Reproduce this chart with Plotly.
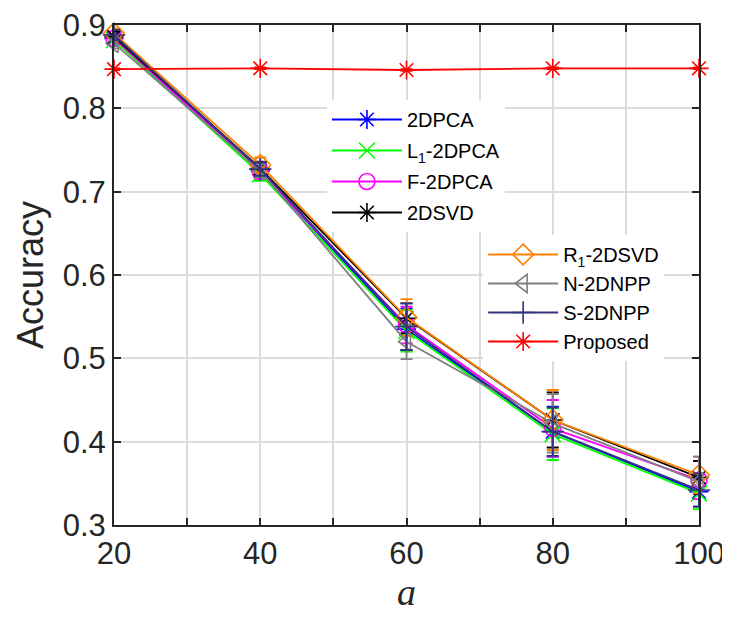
import plotly.graph_objects as go

x_vals = [20, 40, 60, 80, 100]

names = ["2DPCA", "L<sub>1</sub>-2DPCA", "F-2DPCA", "2DSVD",
         "R<sub>1</sub>-2DSVD", "N-2DNPP", "S-2DNPP", "Proposed"]

acc_2dpca = [0.884, 0.725, 0.535, 0.412, 0.340]
acc_l1_2dpca = [0.882, 0.721, 0.533, 0.409, 0.338]
acc_f_2dpca = [0.884, 0.724, 0.540, 0.416, 0.354]
acc_2dsvd = [0.886, 0.728, 0.548, 0.426, 0.357]
acc_r1_2dsvd = [0.890, 0.732, 0.549, 0.426, 0.360]
acc_n_2dnpp = [0.878, 0.725, 0.520, 0.422, 0.352]
acc_s_2dnpp = [0.888, 0.727, 0.538, 0.412, 0.342]
acc_proposed = [0.847, 0.848, 0.846, 0.848, 0.848]

err_2dpca = [0.006, 0.008, 0.025, 0.030, 0.018]
err_l1_2dpca = [0.006, 0.008, 0.025, 0.031, 0.019]
err_f_2dpca = [0.006, 0.008, 0.022, 0.034, 0.023]
err_2dsvd = [0.006, 0.008, 0.018, 0.033, 0.020]
err_r1_2dsvd = [0.006, 0.009, 0.022, 0.036, 0.022]
err_n_2dnpp = [0.006, 0.008, 0.021, 0.035, 0.030]
err_s_2dnpp = [0.006, 0.008, 0.028, 0.029, 0.020]
err_proposed = [0.001, 0.001, 0.001, 0.001, 0.001]

x_ticks = [20, 40, 60, 80, 100]
x_minor_ticks = [30, 50, 70, 90]
y_ticks = [0.3, 0.4, 0.5, 0.6, 0.7, 0.8, 0.9]
y_tick_labels = ["0.3", "0.4", "0.5", "0.6", "0.7", "0.8", "0.9"]

series = [
    (names[0], acc_2dpca, err_2dpca, "#0000FF", "asterisk-open", "legend"),
    (names[1], acc_l1_2dpca, err_l1_2dpca, "#00FF00", "x-thin-open", "legend"),
    (names[2], acc_f_2dpca, err_f_2dpca, "#FF00FF", "circle-open", "legend"),
    (names[3], acc_2dsvd, err_2dsvd, "#000000", "asterisk-open", "legend"),
    (names[4], acc_r1_2dsvd, err_r1_2dsvd, "#FF8000", "diamond-open", "legend2"),
    (names[5], acc_n_2dnpp, err_n_2dnpp, "#808080", "triangle-left-open", "legend2"),
    (names[6], acc_s_2dnpp, err_s_2dnpp, "#333380", "cross-thin-open", "legend2"),
    (names[7], acc_proposed, err_proposed, "#FF0000", "asterisk-open", "legend2"),
]

fig = go.Figure()
for i, (nm, ys, es, col, sym, lg) in enumerate(series):
    fig.add_trace(go.Scatter(
        x=x_vals, y=ys, name=nm, mode="lines+markers",
        line=dict(color=col, width=1.8),
        marker=dict(symbol=sym, size=16, color=col, line=dict(width=1.6, color=col)),
        error_y=dict(type="data", array=es, visible=True, color=col,
                     thickness=1.8, width=6),
        legend=lg, legendgroup="g%d" % i, cliponaxis=False,
    ))

axis_common = dict(
    showline=True, linecolor="#262626", linewidth=2, mirror="ticks",
    ticks="inside", ticklen=7, tickwidth=2, tickcolor="#262626",
    showgrid=True, gridcolor="#DCDCDC", gridwidth=1.6, zeroline=False,
    ticklabeloverflow="allow", automargin=False,
    tickfont=dict(family="Liberation Sans, Arial", size=31, color="#262626"),
)

fig.update_layout(
    width=730, height=618,
    margin=dict(l=106, r=39, t=17, b=101),
    paper_bgcolor="white", plot_bgcolor="white",
    xaxis=dict(range=[20, 100], tickmode="array", tickvals=x_ticks,
               ticktext=[str(v) for v in x_ticks],
               minor=dict(tickmode="array", tickvals=x_minor_ticks, ticks="inside",
                          ticklen=7, tickwidth=2, tickcolor="#262626", showgrid=True,
                          gridcolor="#DCDCDC", gridwidth=1.6),
               title=dict(text="<i>a</i>", font=dict(family="Liberation Serif, Times New Roman", size=38, color="#262626"),
                          standoff=6),
               **axis_common),
    yaxis=dict(range=[0.3, 0.9], tickmode="array", tickvals=y_ticks,
               ticktext=y_tick_labels,
               title=dict(text="Accuracy", font=dict(family="Liberation Sans, Arial", size=36, color="#262626"),
                          standoff=8),
               **axis_common),
    legend=dict(x=0.364, y=0.85, xanchor="left", yanchor="top",
                bgcolor="white", borderwidth=0, itemwidth=70,
                font=dict(family="Liberation Sans, Arial", size=20, color="black"),
                tracegroupgap=2),
    legend2=dict(x=0.631, y=0.58, xanchor="left", yanchor="top",
                 bgcolor="white", borderwidth=0, itemwidth=70,
                 font=dict(family="Liberation Sans, Arial", size=20, color="black"),
                 tracegroupgap=0),
    showlegend=True,
)

fig.write_html("out.html")
